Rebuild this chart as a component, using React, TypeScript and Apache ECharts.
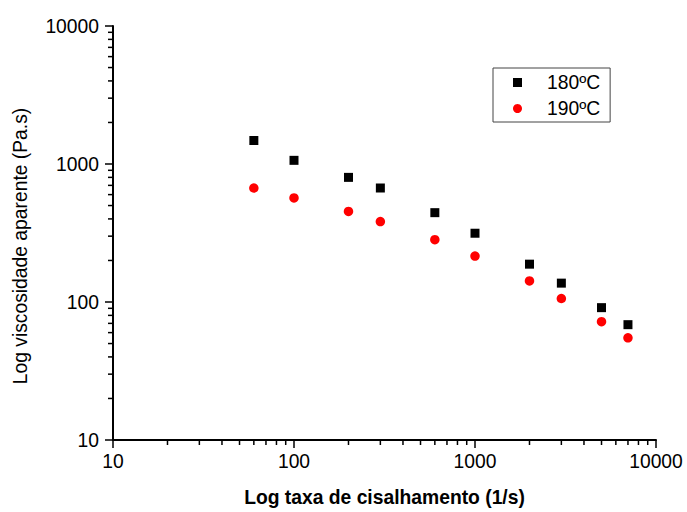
import React, { useEffect, useRef } from "react";
import * as echarts from "echarts";

const shearRate = [60, 100, 200, 300, 600, 1000, 2000, 3000, 5000, 7000];
const visc180 = [1480, 1063, 800, 670, 444, 315, 188, 137, 91, 68.5];
const visc190 = [670, 568, 453, 383, 283, 215, 142, 106, 72, 55];
const seriesNames = ["180ºC", "190ºC"];
const minorX = [20, 30, 40, 50, 60, 70, 80, 90, 200, 300, 400, 500, 600, 700, 800, 900, 2000, 3000, 4000, 5000, 6000, 7000, 8000, 9000];
const minorY = [20, 30, 40, 50, 60, 70, 80, 90, 200, 300, 400, 500, 600, 700, 800, 900, 2000, 3000, 4000, 5000, 6000, 7000, 8000, 9000];

const FONT = "'Liberation Sans', Arial, sans-serif";
const FS = 19.3;

export default function App() {
  const ref = useRef<HTMLDivElement>(null);
  useEffect(() => {
    if (!ref.current) return;
    const chart = echarts.init(ref.current, undefined, { renderer: "svg" });
    const axisCommon = {
      type: "log" as const,
      logBase: 10,
      min: 10,
      max: 10000,
      splitLine: { show: false },
      axisLine: { show: true, lineStyle: { color: "#000", width: 2 } },
      axisTick: { show: true, inside: false, length: 8, lineStyle: { color: "#000", width: 1.5 } },
      minorTick: { show: false },
    };
    chart.setOption({
      animation: false,
      backgroundColor: "#fff",
      textStyle: { fontFamily: FONT },
      grid: { left: 113, right: 31, top: 26, bottom: 67, containLabel: false },
      xAxis: {
        ...axisCommon,
        name: "Log taxa de cisalhamento (1/s)",
        nameLocation: "middle",
        nameGap: 48,
        nameTextStyle: { fontSize: FS, fontWeight: "bold", color: "#000", fontFamily: FONT },
        axisLabel: { fontSize: FS, color: "#000", margin: 12, fontFamily: FONT, formatter: (v: number) => String(v) },
      },
      yAxis: {
        ...axisCommon,
        name: "Log viscosidade aparente (Pa.s)",
        nameLocation: "middle",
        nameGap: 83,
        nameTextStyle: { fontSize: FS, color: "#000", fontFamily: FONT, padding: [0, 26, 0, 0] },
        axisLabel: { fontSize: FS, color: "#000", margin: 14, fontFamily: FONT, formatter: (v: number) => String(v) },
      },
      legend: {
        show: true,
        orient: "vertical",
        left: 493,
        top: 68,
        padding: [5, 10, 4, 20],
        borderColor: "#444",
        borderWidth: 1,
        itemWidth: 9,
        itemHeight: 9,
        itemGap: 7,
        textStyle: { fontSize: FS, color: "#000", fontFamily: FONT, padding: [0, 0, 0, 20] },
        data: [
          { name: seriesNames[0], icon: "rect" },
          { name: seriesNames[1], icon: "circle" },
        ],
      },
      series: [
        {
          name: seriesNames[0],
          type: "scatter",
          symbol: "rect",
          symbolSize: 9,
          itemStyle: { color: "#000", opacity: 1 },
          data: shearRate.map((x, i) => [x, visc180[i]]),
          silent: true,
        },
        {
          name: seriesNames[1],
          type: "scatter",
          symbol: "circle",
          symbolSize: 9.5,
          itemStyle: { color: "#ff0000", opacity: 1 },
          data: shearRate.map((x, i) => [x, visc190[i]]),
          silent: true,
        },
        {
          name: "minorX",
          type: "custom",
          silent: true,
          clip: false,
          data: minorX.map((v) => [v, 10]),
          renderItem: (params: any, api: any) => {
            const p = api.coord([api.value(0), 10]);
            return {
              type: "line",
              shape: { x1: p[0], y1: p[1], x2: p[0], y2: p[1] + 5 },
              style: { stroke: "#000", lineWidth: 1.5 },
            };
          },
        },
        {
          name: "minorY",
          type: "custom",
          silent: true,
          clip: false,
          data: minorY.map((v) => [10, v]),
          renderItem: (params: any, api: any) => {
            const p = api.coord([10, api.value(1)]);
            return {
              type: "line",
              shape: { x1: p[0] - 5, y1: p[1], x2: p[0], y2: p[1] },
              style: { stroke: "#000", lineWidth: 1.5 },
            };
          },
        },
      ],
    });
    return () => chart.dispose();
  }, []);
  return <div ref={ref} style={{ width: 687, height: 512, position: "absolute", left: 0, top: 0 }} />;
}
